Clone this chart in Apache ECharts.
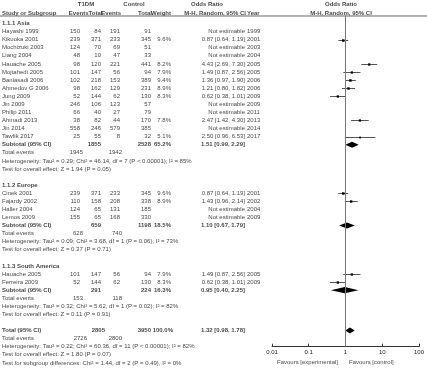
<!DOCTYPE html>
<html><head><meta charset="utf-8">
<script src="https://cdn.jsdelivr.net/npm/echarts@6/dist/echarts.min.js"></script>
<style>html,body{margin:0;padding:0;background:#fff}#c{width:427px;height:372px}</style>
</head><body><div id="c"></div>
<script>
// ---------- DATA ----------
const groupNames = ['1.1.1 Asia', '1.1.2 Europe', '1.1.3 South America'];

const asiaStudy  = ['Hayashi 1999','Kikuoka 2001','Mochizuki 2003','Liang 2004','Hauache 2005','Mojtahedi 2005','Baniasadi 2006','Ahmedov G 2006','Jung 2009','Jin 2009','Philip 2011','Ahmadi 2013','Jin 2014','Tawfik 2017'];
const asiaEvT    = [150,239,124,48,98,101,102,98,52,246,66,38,558,25];
const asiaTotT   = [84,371,70,10,120,147,218,162,144,106,40,82,246,55];
const asiaEvC    = [191,233,69,47,221,56,153,129,62,123,27,44,579,8];
const asiaTotC   = [91,345,51,33,441,94,389,231,130,57,79,170,385,32];
const asiaWeight = [null,9.6,null,null,8.2,7.9,9.4,8.9,8.3,null,null,7.8,null,5.1];
const asiaOR     = [null,0.87,null,null,4.43,1.49,1.36,1.21,0.62,null,null,2.47,null,2.50];
const asiaLo     = [null,0.64,null,null,2.69,0.87,0.97,0.80,0.38,null,null,1.42,null,0.96];
const asiaHi     = [null,1.19,null,null,7.30,2.56,1.90,1.82,1.01,null,null,4.30,null,6.53];
const asiaYear   = [1999,2001,2003,2004,2005,2005,2006,2006,2009,2009,2011,2013,2014,2017];

const eurStudy  = ['Cinek 2001','Fajardy 2002','Haller 2004','Lemos 2009'];
const eurEvT    = [239,110,124,155];
const eurTotT   = [371,158,65,65];
const eurEvC    = [233,208,131,168];
const eurTotC   = [345,338,185,330];
const eurWeight = [9.6,8.9,null,null];
const eurOR     = [0.87,1.43,null,null];
const eurLo     = [0.64,0.96,null,null];
const eurHi     = [1.19,2.14,null,null];
const eurYear   = [2001,2002,2004,2009];

const saStudy  = ['Hauache 2005','Ferreira 2009'];
const saEvT    = [101,52];
const saTotT   = [147,144];
const saEvC    = [56,62];
const saTotC   = [94,130];
const saWeight = [7.9,8.3];
const saOR     = [1.49,0.62];
const saLo     = [0.87,0.38];
const saHi     = [2.56,1.01];
const saYear   = [2005,2009];

const subTotT   = [1855,659,291];
const subTotC   = [2528,1198,224];
const subWeight = [65.2,18.5,16.3];
const subOR     = [1.51,1.10,0.95];
const subLo     = [0.99,0.67,0.40];
const subHi     = [2.29,1.79,2.25];
const subEvT    = [1945,628,153];
const subEvC    = [1942,740,118];
const subHet    = ['Heterogeneity: Tau² = 0.29; Chi² = 46.14, df = 7 (P < 0.00001); I² = 85%',
                   'Heterogeneity: Tau² = 0.09; Chi² = 3.68, df = 1 (P = 0.06); I² = 73%',
                   'Heterogeneity: Tau² = 0.32; Chi² = 5.62, df = 1 (P = 0.02); I² = 82%'];
const subTest   = ['Test for overall effect: Z = 1.94 (P = 0.05)',
                   'Test for overall effect: Z = 0.37 (P = 0.71)',
                   'Test for overall effect: Z = 0.11 (P = 0.91)'];

const totTotT = 2805, totTotC = 3950, totWeight = 100.0;
const totOR = 1.32, totLo = 0.98, totHi = 1.78;
const totEvT = 2726, totEvC = 2800;
const totHet = 'Heterogeneity: Tau² = 0.22; Chi² = 60.36, df = 11 (P < 0.00001); I² = 82%';
const totTest = 'Test for overall effect: Z = 1.80 (P = 0.07)';
const subgroupTest = 'Test for subgroup differences: Chi² = 1.44, df = 2 (P = 0.49), I² = 0%';

const tickLabels = ['0.01','0.1','1','10','100'];
const favourLeft = 'Favours [experimental]';
const favourRight = 'Favours [control]';

// ---------- LAYOUT ----------
const S = 8.08, Y0 = 23.5;
const COL = {study:2, ev1:80, tot1:101, ev2:120, tot2:151, weight:171, or:245, year:247, tev1:83, tev2:122};
const FONT = '"Liberation Sans", Arial, sans-serif';
const NARROW = '"Liberation Sans Narrow", "Arial Narrow", "Liberation Sans", Arial, sans-serif';

const groups = [
  {study:asiaStudy, evT:asiaEvT, totT:asiaTotT, evC:asiaEvC, totC:asiaTotC, w:asiaWeight, or:asiaOR, lo:asiaLo, hi:asiaHi, year:asiaYear},
  {study:eurStudy, evT:eurEvT, totT:eurTotT, evC:eurEvC, totC:eurTotC, w:eurWeight, or:eurOR, lo:eurLo, hi:eurHi, year:eurYear},
  {study:saStudy, evT:saEvT, totT:saTotT, evC:saEvC, totC:saTotC, w:saWeight, or:saOR, lo:saLo, hi:saHi, year:saYear}
];

const texts = [];
const studyMarks = [];
const diamonds = [];
function T(x, row, text, align, bold, narrow) {
  const lab = {position: align==='r' ? 'left' : (align==='l' ? 'right' : 'inside'),
               fontWeight: bold ? 'bold' : 'normal'};
  if (narrow) lab.fontFamily = NARROW;
  texts.push({value:[x,row], name:String(text), label:lab});
}
const fmtOR = (o,l,h) => o.toFixed(2) + ' [' + l.toFixed(2) + ', ' + h.toFixed(2) + ']';

// headers
T(86, -2.41, 'T1DM', 'c', true);
T(134, -2.41, 'Control', 'c', true);
T(207, -2.41, 'Odds Ratio', 'c', true);
T(341, -2.41, 'Odds Ratio', 'c', true);
T(COL.study, -1.3, 'Study or Subgroup', 'l', true);
T(88.5, -1.3, 'Events', 'r', true, true);
T(102.5, -1.3, 'Total', 'r', true, true);
T(121, -1.3, 'Events', 'r', true, true);
T(152, -1.3, 'Total', 'r', true, true);
T(171, -1.3, 'Weight', 'r', true, true);
T(246, -1.3, 'M-H, Random, 95% CI', 'r', true);
T(COL.year, -1.3, 'Year', 'l', true);
T(341, -1.3, 'M-H, Random, 95% CI', 'c', true);

let row = 0;
groups.forEach((g, gi) => {
  T(COL.study, row, groupNames[gi], 'l', true); row++;
  g.study.forEach((s, i) => {
    T(COL.study, row, s, 'l');
    T(COL.ev1, row, g.evT[i], 'r');
    T(COL.tot1, row, g.totT[i], 'r');
    T(COL.ev2, row, g.evC[i], 'r');
    T(COL.tot2, row, g.totC[i], 'r');
    if (g.w[i] != null) T(COL.weight, row, g.w[i].toFixed(1) + '%', 'r');
    T(COL.or, row, g.or[i] != null ? fmtOR(g.or[i], g.lo[i], g.hi[i]) : 'Not estimable', 'r');
    T(COL.year, row, g.year[i], 'l');
    if (g.or[i] != null) studyMarks.push([g.or[i], g.lo[i], g.hi[i], row, g.w[i]]);
    row++;
  });
  T(COL.study, row, 'Subtotal (95% CI)', 'l', true);
  T(COL.tot1, row, subTotT[gi], 'r', true);
  T(COL.tot2, row, subTotC[gi], 'r', true);
  T(COL.weight, row, subWeight[gi].toFixed(1) + '%', 'r', true, true);
  T(COL.or, row, fmtOR(subOR[gi], subLo[gi], subHi[gi]), 'r', true);
  diamonds.push([subOR[gi], subLo[gi], subHi[gi], row]);
  row++;
  T(COL.study, row, 'Total events', 'l');
  T(COL.tev1, row, subEvT[gi], 'r');
  T(COL.tev2, row, subEvC[gi], 'r');
  row++;
  T(COL.study, row, subHet[gi], 'l'); row++;
  T(COL.study, row, subTest[gi], 'l'); row++;
  row++; // blank
});
T(COL.study, row, 'Total (95% CI)', 'l', true);
T(COL.tot1 + 4, row, totTotT, 'r', true);
T(COL.tot2, row, totTotC, 'r', true);
T(COL.weight + 2, row, totWeight.toFixed(1) + '%', 'r', true, true);
T(COL.or, row, fmtOR(totOR, totLo, totHi), 'r', true);
diamonds.push([totOR, totLo, totHi, row]);
row++;
T(COL.study, row, 'Total events', 'l');
T(COL.tev1 + 4, row, totEvT, 'r');
T(COL.tev2, row, totEvC, 'r');
row++;
T(COL.study, row, totHet, 'l'); row++;
T(COL.study, row, totTest, 'l'); row++;
T(COL.study, row, subgroupTest, 'l'); row++;

T(338, 41.9, favourLeft, 'r');
T(349, 41.9, favourRight, 'l');

// ---------- CHART ----------
const chart = echarts.init(document.getElementById('c'), null, {renderer:'canvas'});
chart.setOption({
  animation: false,
  grid: [
    {left:0, top: Y0 - 2.9*S, width:427, height: 45.9*S},
    {left:272, top: Y0 - S, width:149, height: 41*S}
  ],
  xAxis: [
    {gridIndex:0, type:'value', min:0, max:427, show:false},
    {gridIndex:1, type:'log', logBase:10, min:0.01, max:100,
     axisLine:{onZero:false, lineStyle:{color:'#333', width:1}},
     axisTick:{show:true, inside:true, length:3, lineStyle:{color:'#333'}},
     axisLabel:{fontSize:6, color:'#222', margin:3, fontFamily:FONT,
                formatter:(v, i) => tickLabels[i] !== undefined ? tickLabels[i] : ''},
     splitLine:{show:false}, minorTick:{show:false}}
  ],
  yAxis: [
    {gridIndex:0, type:'value', min:-2.9, max:43, inverse:true, show:false},
    {gridIndex:1, type:'value', min:-1, max:40, inverse:true, show:false}
  ],
  series: [
    { // header rule
      type:'line', xAxisIndex:0, yAxisIndex:0, symbol:'none', silent:true,
      data:[[0,-0.93],[427,-0.93]], lineStyle:{color:'#666', width:1}
    },
    { // table text
      type:'scatter', xAxisIndex:0, yAxisIndex:0, symbolSize:0, silent:true,
      data: texts,
      label:{show:true, formatter:p => p.name, fontSize:6, color:'#111', distance:0, fontFamily:FONT}
    },
    { // study CI + squares
      type:'custom', xAxisIndex:1, yAxisIndex:1, silent:true,
      data: studyMarks,
      encode:{x:[0,1,2], y:3},
      renderItem:(params, api) => {
        const o = api.value(0), l = api.value(1), h = api.value(2), r = api.value(3), w = api.value(4);
        const pL = api.coord([l, r]), pH = api.coord([h, r]), pO = api.coord([o, r]);
        const sz = 0.8 * Math.sqrt(w);
        return {type:'group', children:[
          {type:'line', shape:{x1:pL[0], y1:Math.round(pL[1])+0.5, x2:pH[0], y2:Math.round(pH[1])+0.5}, style:{stroke:'#555', lineWidth:1}},
          {type:'rect', shape:{x:pO[0]-sz/2, y:Math.round(pO[1])+0.5-sz/2, width:sz, height:sz}, style:{fill:'#000'}}
        ]};
      },
      markLine:{symbol:'none', silent:true, label:{show:false},
        lineStyle:{color:'#777', width:1, type:'solid'},
        data:[{xAxis:1}]}
    },
    { // diamonds
      type:'custom', xAxisIndex:1, yAxisIndex:1, silent:true,
      data: diamonds,
      encode:{x:[0,1,2], y:3},
      renderItem:(params, api) => {
        const o = api.value(0), l = api.value(1), h = api.value(2), r = api.value(3);
        const a = api.coord([l, r]), b = api.coord([o, r - 0.38]), c = api.coord([h, r]), d = api.coord([o, r + 0.38]);
        return {type:'polygon', shape:{points:[a,b,c,d]}, style:{fill:'#000'}};
      }
    }
  ]
});
</script></body></html>
